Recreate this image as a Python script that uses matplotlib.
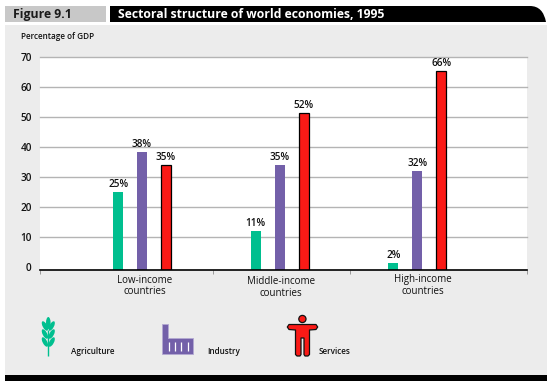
import matplotlib
matplotlib.use('Agg')
from matplotlib import pyplot as plt
import matplotlib.patches as patches
from matplotlib.path import Path
import numpy as np

W, H = 553, 389
FONT = 'Open Sans'

categories = ['Low-income\ncountries', 'Middle-income\ncountries', 'High-income\ncountries']
agriculture = [25, 12, 1.5]
industry = [38.5, 34, 32]
services = [34, 51.5, 65.5]
agriculture_labels = ['25%', '11%', '2%']
industry_labels = ['38%', '35%', '32%']
services_labels = ['35%', '52%', '66%']
y_ticks = [0, 10, 20, 30, 40, 50, 60, 70]
x_tick_pos = [-0.741, 0.512, 1.514, 2.796]

GREEN = '#00bf8f'
PURPLE = '#7360a9'
RED = '#fa1a16'
PANEL = '#ececec'

fig = plt.figure(figsize=(W / 100, H / 100), dpi=100, facecolor='white')

# overlay in pixel coords for the frame, header and legend icons
bg = fig.add_axes([0, 0, 1, 1], zorder=0)
bg.set_xlim(0, W)
bg.set_ylim(H, 0)
bg.set_axis_off()

bg.add_patch(patches.Rectangle((5, 25), 542, 350, fc=PANEL, ec='none'))
bg.add_patch(patches.Rectangle((5, 375), 542, 5.5, fc='black', ec='none'))
bg.add_patch(patches.Rectangle((5, 6), 101, 16, fc='#c8c8c8', ec='none'))
band = Path([(110, 6), (530, 6), (543, 6), (546, 22), (110, 22), (110, 6)],
            [Path.MOVETO, Path.LINETO, Path.CURVE3, Path.CURVE3, Path.LINETO, Path.CLOSEPOLY])
bg.add_patch(patches.PathPatch(band, fc='black', ec='none'))

bg.text(13, 14, 'Figure 9.1', fontsize=8.8, fontweight='bold', family=FONT, color='#1a1a1a', va='center')
bg.text(118, 14, 'Sectoral structure of world economies, 1995', fontsize=8.8, fontweight='bold',
        family=FONT, color='white', va='center')
bg.text(21, 36, 'Percentage of GDP', fontsize=5.9, family=FONT, color='#111111', va='center', fontweight='semibold')

# group labels, the printed ones sit at slightly different heights
label_x = [145, 281, 423]
label_y = [286, 287.5, 285.5]
for name, lx, ly in zip(categories, label_x, label_y):
    bg.text(lx, ly, name, fontsize=7, family=FONT, color='#111111', ha='center', va='center', linespacing=1.1)

# wheat icon
bg.plot([48.3, 48.3], [330, 356], color=GREEN, lw=1.0, solid_capstyle='butt')
bg.add_patch(patches.Ellipse((48.3, 323), 4.6, 12, fc=GREEN, ec='none'))
for yy in [326, 334, 342]:
    for side in [-1, 1]:
        bg.add_patch(patches.Ellipse((48.3 + side * 3.4, yy), 4.4, 10.5, angle=side * 28,
                                     fc=GREEN, ec='none'))

# factory icon
factory = [(162.3, 323.7), (168.3, 323.7), (168.3, 338), (193.3, 338), (193.3, 354.3), (162.3, 354.3)]
bg.add_patch(patches.Polygon(factory, closed=True, fc=PURPLE, ec='#b3a9d2', lw=0.6))
for xx in [168.5, 174.5, 180.5, 187.5]:
    bg.plot([xx, xx], [342, 351], color='white', lw=0.9, solid_capstyle='butt')

# person icon
person = [(289, 324.5), (316, 324.5), (317.7, 327), (316, 329.5), (309.5, 330), (309.5, 354.5), (308, 356),
          (305, 356), (304, 354.5), (304, 338), (301, 338), (301, 354.5), (300, 356), (297, 356),
          (295.5, 354.5), (295.5, 330), (289, 329.5), (287.3, 327)]
bg.add_patch(patches.Polygon(person, closed=True, fc=RED, ec='#111111', lw=0.9, joinstyle='round'))
bg.add_patch(patches.Circle((302.4, 319), 3.6, fc=RED, ec='#111111', lw=0.9))

bg.text(71, 352, 'Agriculture', fontsize=5.9, family=FONT, color='#111111', va='center', fontweight='semibold')
bg.text(207, 352, 'Industry', fontsize=5.9, family=FONT, color='#111111', va='center', fontweight='semibold')
bg.text(319, 352, 'Services', fontsize=5.9, family=FONT, color='#111111', va='center', fontweight='semibold')

# main chart
ax = fig.add_axes([40 / W, 1 - 270.3 / H, 487 / W, 213 / H], zorder=1)
ax.set_facecolor('white')
ax.set_xlim(x_tick_pos[0], x_tick_pos[-1])
ax.set_ylim(-1, 70)

for tick in y_ticks[1:]:
    ax.axhline(tick, color='#b4b4b4', lw=1.0, zorder=1, clip_on=False)

x = np.arange(len(categories))
w = 0.0726
off = 0.174
series = [(x - off, agriculture, GREEN, 'none', agriculture_labels),
          (x, industry, PURPLE, 'none', industry_labels),
          (x + off, services, RED, 'black', services_labels)]
for pos, vals, col, edge, labels in series:
    tops = np.array(vals) + 1
    ax.bar(pos, tops, width=w, bottom=-1, color=col, edgecolor=edge, linewidth=0.9 if edge != 'none' else 0, zorder=2)
    for p, v, lab in zip(pos, vals, labels):
        ax.annotate(lab, xy=(p, v), xytext=(0, 1.6), textcoords='offset points', ha='center', va='bottom',
                    fontsize=7.2, family=FONT, color='#111111', fontweight='semibold', annotation_clip=False)

for name in ['top', 'right', 'left']:
    ax.spines[name].set_visible(False)
ax.spines['bottom'].set_linewidth(1.2)
ax.spines['bottom'].set_color('black')

ax.set_xticks(x_tick_pos)
ax.set_xticklabels([])
ax.tick_params(axis='x', length=3, width=0.7, color='#999999')
ax.set_yticks(y_ticks)
ax.set_yticklabels([str(t) for t in y_ticks], fontsize=7.2, family=FONT, color='#111111', fontweight='semibold')
ax.tick_params(axis='y', length=0, pad=6)

fig.savefig('out.png', dpi=100)
